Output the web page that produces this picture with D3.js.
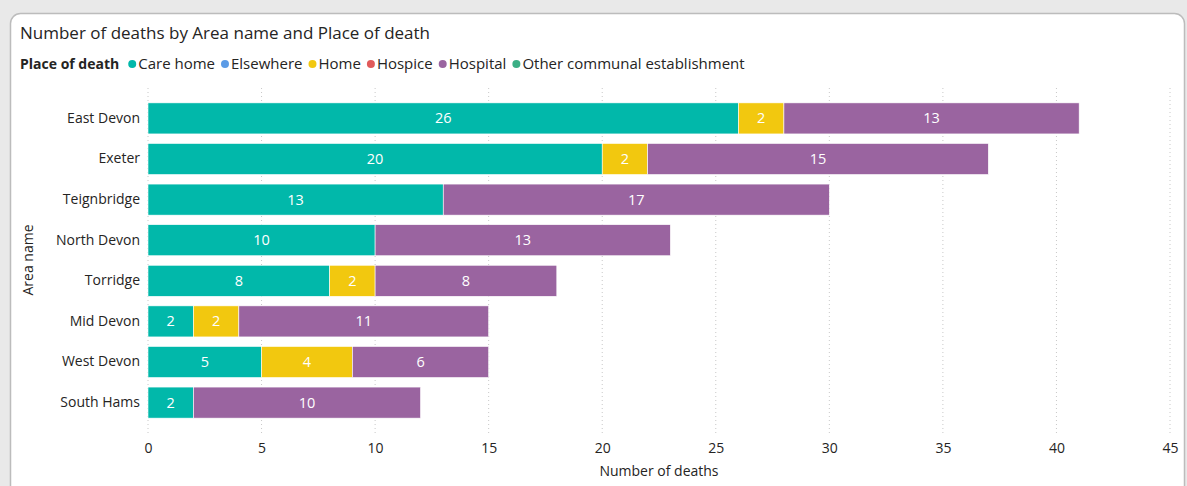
<!DOCTYPE html>
<html>
<head>
<meta charset="utf-8">
<script src="https://cdn.jsdelivr.net/npm/d3@7"></script>
<style>
  body { margin: 0; background: #e9e9e9; }
  text { font-family: "Segoe UI", "Open Sans", "Noto Sans", sans-serif; }
</style>
</head>
<body>
<div id="chart"></div>
<script>
const areas = ["East Devon", "Exeter", "Teignbridge", "North Devon", "Torridge", "Mid Devon", "West Devon", "South Hams"];
const places = ["Care home", "Elsewhere", "Home", "Hospice", "Hospital", "Other communal establishment"];
const careHome = [26, 20, 13, 10, 8, 2, 5, 2];
const elsewhere = [0, 0, 0, 0, 0, 0, 0, 0];
const home = [2, 2, 0, 0, 2, 2, 4, 0];
const hospice = [0, 0, 0, 0, 0, 0, 0, 0];
const hospital = [13, 15, 17, 13, 8, 11, 6, 10];
const otherCommunal = [0, 0, 0, 0, 0, 0, 0, 0];
const xTicks = [0, 5, 10, 15, 20, 25, 30, 35, 40, 45];

const colors = {
    "Care home": "#01B8AA",
    "Elsewhere": "#5B9BE6",
    "Home": "#F2C80F",
    "Hospice": "#E05A5A",
    "Hospital": "#9A64A0",
    "Other communal establishment": "#3BAF85"
};

const width = 1187;
const height = 486;

const rows = areas.map((a, i) => ({
    area: a,
    "Care home": careHome[i],
    "Elsewhere": elsewhere[i],
    "Home": home[i],
    "Hospice": hospice[i],
    "Hospital": hospital[i],
    "Other communal establishment": otherCommunal[i]
}));

const svg = d3.select("#chart")
    .append("svg")
    .attr("width", width)
    .attr("height", height);

// card
svg.append("rect")
    .attr("x", 10.5)
    .attr("y", 13.5)
    .attr("width", 1174)
    .attr("height", 490)
    .attr("rx", 10)
    .attr("fill", "#fff")
    .attr("stroke", "#bcbcbc")
    .attr("stroke-width", 1.5);

svg.append("text")
    .attr("x", 20)
    .attr("y", 39)
    .attr("font-size", "17px")
    .attr("fill", "#252423")
    .text("Number of deaths by Area name and Place of death");

// legend
const legend = svg.append("g").attr("transform", "translate(20,69)");
const legTitle = legend.append("text")
    .attr("font-size", "14px")
    .attr("font-weight", "bold")
    .attr("fill", "#252423")
    .text("Place of death");
let lx = legTitle.node().getComputedTextLength() + 9;
places.forEach(p => {
    legend.append("circle")
        .attr("cx", lx + 4)
        .attr("cy", -5)
        .attr("r", 4)
        .attr("fill", colors[p]);
    const t = legend.append("text")
        .attr("x", lx + 10)
        .attr("font-size", "15px")
        .attr("fill", "#252423")
        .text(p);
    lx += 10 + t.node().getComputedTextLength() + 6;
});

const x = d3.scaleLinear().domain([0, 45]).range([148, 1170]);
const y = d3.scaleBand().domain(areas).range([98, 423]).paddingInner(0.235).paddingOuter(0.12);

// gridlines
svg.append("g")
    .selectAll("line")
    .data(xTicks)
    .join("line")
    .attr("x1", d => x(d))
    .attr("x2", d => x(d))
    .attr("y1", 88)
    .attr("y2", 434)
    .attr("stroke", "#c8c8c8")
    .attr("stroke-width", 1)
    .attr("stroke-dasharray", "1,3");

const stack = d3.stack().keys(places)(rows);

const layers = svg.append("g")
    .selectAll("g")
    .data(stack)
    .join("g")
    .attr("fill", d => colors[d.key]);

layers.selectAll("rect")
    .data(d => d.filter(s => s[1] - s[0] > 0))
    .join("rect")
    .attr("x", d => x(d[0]))
    .attr("y", d => y(d.data.area))
    .attr("width", d => x(d[1]) - x(d[0]))
    .attr("height", y.bandwidth())
    .attr("stroke", "#fff")
    .attr("stroke-width", 0.6);

layers.selectAll("text")
    .data(d => d.filter(s => s[1] - s[0] > 0))
    .join("text")
    .attr("x", d => (x(d[0]) + x(d[1])) / 2)
    .attr("y", d => y(d.data.area) + y.bandwidth() / 2)
    .attr("dy", "0.35em")
    .attr("text-anchor", "middle")
    .attr("font-size", "14.5px")
    .attr("fill", "#fff")
    .text(d => d[1] - d[0]);

// y axis labels
const yAxis = svg.append("g")
    .attr("transform", "translate(140,0)")
    .call(d3.axisLeft(y).tickSize(0).tickPadding(0));
yAxis.select(".domain").remove();
yAxis.selectAll("text")
    .attr("font-size", "14px")
    .attr("fill", "#252423")
    .style("font-family", "\"Segoe UI\", \"Open Sans\", \"Noto Sans\", sans-serif");

// x axis labels
const xAxis = svg.append("g")
    .attr("transform", "translate(0,443)")
    .call(d3.axisBottom(x).tickValues(xTicks).tickSize(0).tickPadding(0));
xAxis.select(".domain").remove();
xAxis.selectAll("text")
    .attr("font-size", "14px")
    .attr("fill", "#252423")
    .style("font-family", "\"Segoe UI\", \"Open Sans\", \"Noto Sans\", sans-serif");

svg.append("text")
    .attr("x", x(22.5))
    .attr("y", 476)
    .attr("text-anchor", "middle")
    .attr("font-size", "14px")
    .attr("fill", "#252423")
    .text("Number of deaths");

svg.append("text")
    .attr("transform", "translate(33,260) rotate(-90)")
    .attr("text-anchor", "middle")
    .attr("font-size", "14px")
    .attr("fill", "#252423")
    .text("Area name");
</script>
</body>
</html>
